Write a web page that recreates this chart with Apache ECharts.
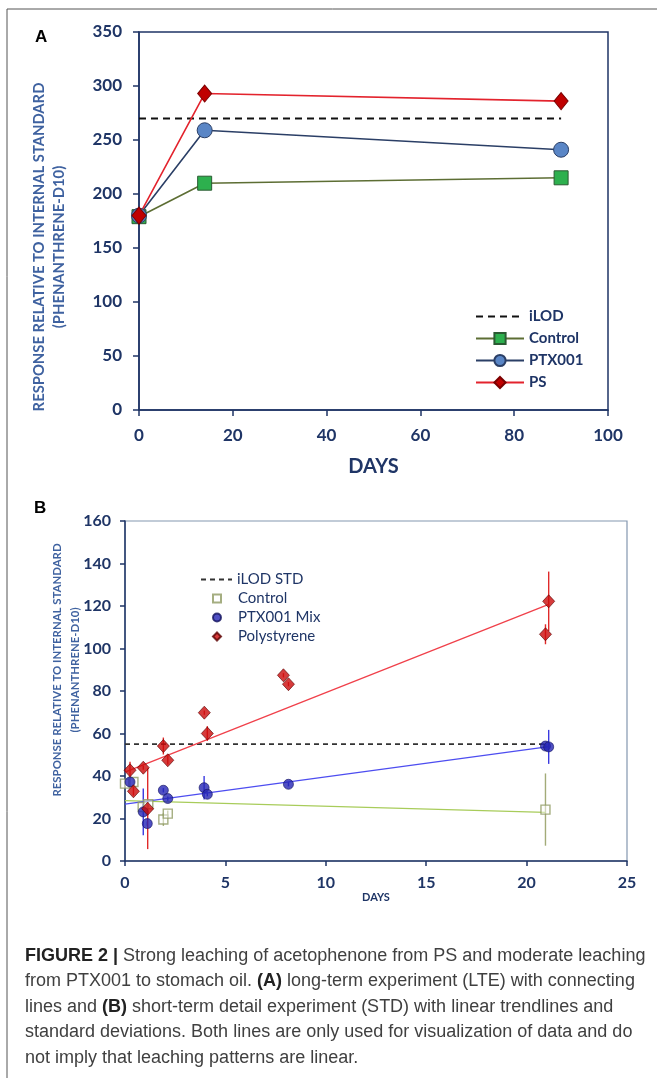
<!DOCTYPE html>
<html>
<head>
<meta charset="utf-8">
<script src="https://cdn.jsdelivr.net/npm/echarts@6/dist/echarts.min.js"></script>
<style>
html,body{margin:0;padding:0;background:#fff;}
#c{width:657px;height:1078px;}
</style>
</head>
<body>
<div id="c"></div>
<script>
// ---------- Panel A data (long-term experiment) ----------
const aDays    = [0, 14, 90];
const aControl = [179, 210, 215];
const aPTX     = [180, 259, 241];
const aPS      = [180, 293, 286];
const aILOD    = [[0, 270], [90, 270]];
const aXTicks  = [0, 20, 40, 60, 80, 100];
const aYTicks  = [0, 50, 100, 150, 200, 250, 300, 350];

// ---------- Panel B data (short-term detail experiment) ----------
const bCtrlX  = [0, 0.42, 0.88, 1.16, 1.91, 2.13, 20.94];
const bCtrlY  = [36.4, 37.2, 25.4, 26.7, 19.5, 22.3, 24.2];
const bCtrlSD = [2, 1.5, 1.5, 1.5, 3, 1.5, 17];

const bPtxX  = [0.25, 0.91, 1.11, 1.91, 2.13, 3.94, 4.1, 8.14, 20.94, 21.1];
const bPtxY  = [37.2, 23.1, 17.6, 33.3, 29.4, 34.5, 31.4, 36.1, 54.1, 53.7];
const bPtxSD = [2, 11, 1, 1, 1, 5.5, 1, 1, 1, 8];

const bPsX  = [0.25, 0.42, 0.91, 1.13, 1.91, 2.13, 3.95, 4.1, 7.89, 8.14, 20.94, 21.1];
const bPsY  = [42.7, 32.8, 43.9, 24.6, 54.1, 47.4, 69.8, 60, 87.4, 83.2, 106.7, 122.2];
const bPsSD = [4, 2, 1, 19, 4, 2, 1, 3.5, 1, 1, 4.7, 14];

const bILOD   = [[0, 55], [20.94, 55]];
const bXTicks = [0, 5, 10, 15, 20, 25];
const bYTicks = [0, 20, 40, 60, 80, 100, 120, 140, 160];

// ---------- helpers ----------
function pairs(xs, ys){ return xs.map((x,i)=>[x, ys[i]]); }
function errs(xs, ys, sd){ return xs.map((x,i)=>[x, ys[i]-sd[i], ys[i]+sd[i]]); }
function trend(xs, ys){
  const n = xs.length;
  const mx = xs.reduce((a,b)=>a+b,0)/n, my = ys.reduce((a,b)=>a+b,0)/n;
  let sxy=0, sxx=0;
  for(let i=0;i<n;i++){ sxy+=(xs[i]-mx)*(ys[i]-my); sxx+=(xs[i]-mx)*(xs[i]-mx); }
  const m = sxy/sxx, b = my - m*mx;
  const xmax = Math.max.apply(null, xs);
  return [[0, b], [xmax, b + m*xmax]];
}
function errSeries(name, data, color){
  return {
    type:'custom', name:name, xAxisIndex:1, yAxisIndex:1, silent:true, z:2,
    data:data,
    renderItem:function(params, api){
      const top = api.coord([api.value(0), api.value(2)]);
      const bot = api.coord([api.value(0), api.value(1)]);
      return {type:'line', shape:{x1:top[0], y1:top[1], x2:bot[0], y2:bot[1]},
              style:{stroke:color, lineWidth:1.4}};
    }
  };
}

const NAVY = '#1f3566';
const TITLE = '#3f62a0';
const FONT = 'Lato, "Open Sans", sans-serif';
const CAPFONT = '"Liberation Sans", Arial, sans-serif';
const HIDE = {color:'rgba(0,0,0,0)', borderColor:'rgba(0,0,0,0)', borderWidth:0};

const chart = echarts.init(document.getElementById('c'), null, {renderer:'canvas'});

const capLines = [
  '{b|FIGURE 2 |} Strong leaching of acetophenone from PS and moderate leaching',
  'from PTX001 to stomach oil. {b|(A)} long-term experiment (LTE) with connecting',
  'lines and {b|(B)} short-term detail experiment (STD) with linear trendlines and',
  'standard deviations. Both lines are only used for visualization of data and do',
  'not imply that leaching patterns are linear.'
];

const graphics = [
  {type:'polyline', shape:{points:[[7,1100],[7,9],[700,9]]}, style:{stroke:'#555', lineWidth:1, fill:null}},
  {type:'text', x:35, y:37, style:{text:'A', font:'bold 17px "Liberation Sans", Arial', fill:'#000', verticalAlign:'middle'}},
  {type:'text', x:34, y:508, style:{text:'B', font:'bold 17px "Liberation Sans", Arial', fill:'#000', verticalAlign:'middle'}},
  {type:'text', x:49, y:247, rotation:Math.PI/2,
   style:{text:'RESPONSE RELATIVE TO INTERNAL STANDARD\n(PHENANTHRENE-D10)', align:'center', verticalAlign:'middle',
          fontFamily:FONT, fontWeight:'bold', fontSize:14.8, lineHeight:19.5, fill:TITLE}},
  {type:'text', x:66.5, y:670, rotation:Math.PI/2,
   style:{text:'RESPONSE RELATIVE TO INTERNAL STANDARD\n(PHENANTHRENE-D10)', align:'center', verticalAlign:'middle',
          fontFamily:FONT, fontWeight:'bold', fontSize:11.4, lineHeight:18.5, fill:TITLE}}
];
capLines.forEach((t,i)=>{
  graphics.push({type:'text', x:25, y:956 + i*25.5,
    style:{text:t, fontFamily:CAPFONT, fontSize:18, fill:'#404040', verticalAlign:'middle',
           rich:{b:{fontFamily:CAPFONT, fontSize:18, fontWeight:'bold', fill:'#222'}}}});
});

const option = {
  animation:false,
  backgroundColor:'#fff',
  graphic:graphics,
  grid:[
    {left:139, top:32, width:469, height:378, show:true, borderColor:NAVY, borderWidth:1.5, backgroundColor:'transparent'},
    {left:125, top:521, width:502, height:340, show:true, borderColor:'#8497b0', borderWidth:1.2, backgroundColor:'transparent'}
  ],
  xAxis:[
    {gridIndex:0, type:'value', min:aXTicks[0], max:aXTicks[aXTicks.length-1], interval:aXTicks[1]-aXTicks[0],
     name:'DAYS', nameLocation:'middle', nameGap:47,
     nameTextStyle:{fontFamily:FONT, fontWeight:'bold', fontSize:20, color:NAVY},
     axisLine:{lineStyle:{color:NAVY, width:1.5}}, axisTick:{show:true, length:6, lineStyle:{color:NAVY, width:1.5}},
     axisLabel:{margin:17, fontFamily:FONT, fontWeight:'bold', fontSize:17, color:NAVY},
     splitLine:{show:false}},
    {gridIndex:1, type:'value', min:bXTicks[0], max:bXTicks[bXTicks.length-1], interval:bXTicks[1]-bXTicks[0],
     name:'DAYS', nameLocation:'middle', nameGap:31,
     nameTextStyle:{fontFamily:FONT, fontWeight:'bold', fontSize:11, color:NAVY},
     axisLine:{lineStyle:{color:NAVY, width:1.5}}, axisTick:{show:true, length:5, lineStyle:{color:NAVY, width:1.5}},
     axisLabel:{margin:14, fontFamily:FONT, fontWeight:'bold', fontSize:16, color:NAVY},
     splitLine:{show:false}}
  ],
  yAxis:[
    {gridIndex:0, type:'value', min:aYTicks[0], max:aYTicks[aYTicks.length-1], interval:aYTicks[1]-aYTicks[0],
     axisLine:{show:true, lineStyle:{color:NAVY, width:1.5}}, axisTick:{show:true, length:6, lineStyle:{color:NAVY, width:1.5}},
     axisLabel:{margin:17, fontFamily:FONT, fontWeight:'bold', fontSize:17, color:NAVY},
     splitLine:{show:false}},
    {gridIndex:1, type:'value', min:bYTicks[0], max:bYTicks[bYTicks.length-1], interval:bYTicks[1]-bYTicks[0],
     axisLine:{show:true, lineStyle:{color:NAVY, width:1.5}}, axisTick:{show:true, length:5, lineStyle:{color:NAVY, width:1.5}},
     axisLabel:{margin:14, fontFamily:FONT, fontWeight:'bold', fontSize:16, color:NAVY},
     splitLine:{show:false}}
  ],
  legend:[
    {orient:'vertical', left:475, top:309, padding:0, itemWidth:48, itemHeight:14, itemGap:7, selectedMode:false,
     data:[{name:'iLOD', itemStyle:HIDE},'Control','PTX001','PS'],
     textStyle:{fontFamily:FONT, fontWeight:'bold', fontSize:15, color:NAVY}},
    {orient:'vertical', left:200, top:572, padding:0, itemWidth:31, itemHeight:10, itemGap:4, selectedMode:false,
     data:[{name:'iLOD STD', itemStyle:HIDE}],
     textStyle:{fontFamily:FONT, fontSize:15, color:NAVY}},
    {orient:'vertical', left:212, top:591, padding:0, itemWidth:8, itemHeight:8, itemGap:4, selectedMode:false,
     data:['Control ','PTX001 Mix','Polystyrene'],
     textStyle:{fontFamily:FONT, fontSize:15, color:NAVY, padding:[0,0,0,12]}}
  ],
  series:[
    // ----- Panel A -----
    {name:'iLOD', type:'line', xAxisIndex:0, yAxisIndex:0, data:aILOD, symbol:'none',
     lineStyle:{color:'#111', width:2, type:[7,5]}, itemStyle:{color:'#111'}},
    {name:'Control', type:'line', xAxisIndex:0, yAxisIndex:0, data:pairs(aDays, aControl),
     symbol:'rect', symbolSize:14, lineStyle:{color:'#5d6e34', width:1.6},
     itemStyle:{color:'#2db04e', borderColor:'#2a5a32', borderWidth:1}},
    {name:'PTX001', type:'line', xAxisIndex:0, yAxisIndex:0, data:pairs(aDays, aPTX),
     symbol:'circle', symbolSize:15, lineStyle:{color:'#2b3f66', width:1.6},
     itemStyle:{color:'#5a86c6', borderColor:'#2b3f66', borderWidth:1}},
    {name:'PS', type:'line', xAxisIndex:0, yAxisIndex:0, data:pairs(aDays, aPS),
     symbol:'diamond', symbolSize:[14,17], lineStyle:{color:'#e3232d', width:1.6},
     itemStyle:{color:'#c00000', borderColor:'#7a0000', borderWidth:1}},
    // ----- Panel B -----
    {name:'iLOD STD', type:'line', xAxisIndex:1, yAxisIndex:1, data:bILOD, symbol:'none',
     lineStyle:{color:'#333', width:1.6, type:[5,4]}, itemStyle:{color:'#333'}},
    {name:'trendCtrl', type:'line', xAxisIndex:1, yAxisIndex:1, data:trend(bCtrlX,bCtrlY), symbol:'none',
     lineStyle:{color:'#a8cc5a', width:1.3}, silent:true},
    {name:'trendPtx', type:'line', xAxisIndex:1, yAxisIndex:1, data:trend(bPtxX,bPtxY), symbol:'none',
     lineStyle:{color:'#4d4df0', width:1.3}, silent:true},
    {name:'trendPs', type:'line', xAxisIndex:1, yAxisIndex:1, data:trend(bPsX,bPsY), symbol:'none',
     lineStyle:{color:'#f0404a', width:1.3}, silent:true},
    errSeries('errCtrl', errs(bCtrlX,bCtrlY,bCtrlSD), '#a3ab78'),
    errSeries('errPtx', errs(bPtxX,bPtxY,bPtxSD), '#3a3ae0'),
    errSeries('errPs', errs(bPsX,bPsY,bPsSD), '#e02a2a'),
    {name:'Control ', type:'scatter', xAxisIndex:1, yAxisIndex:1, data:pairs(bCtrlX,bCtrlY), z:3,
     symbol:'rect', symbolSize:9, itemStyle:{color:'rgba(255,255,255,0.6)', borderColor:'#8f9a62', borderWidth:1.4}},
    {name:'PTX001 Mix', type:'scatter', xAxisIndex:1, yAxisIndex:1, data:pairs(bPtxX,bPtxY), z:4,
     symbol:'circle', symbolSize:10, itemStyle:{color:'#2424b4', borderColor:'#14145e', borderWidth:0.8}},
    {name:'Polystyrene', type:'scatter', xAxisIndex:1, yAxisIndex:1, data:pairs(bPsX,bPsY), z:5,
     symbol:'diamond', symbolSize:[12,13], itemStyle:{color:'#cc0a0a', borderColor:'#5a0000', borderWidth:0.8}}
  ]
};
chart.setOption(option);
</script>
</body>
</html>
